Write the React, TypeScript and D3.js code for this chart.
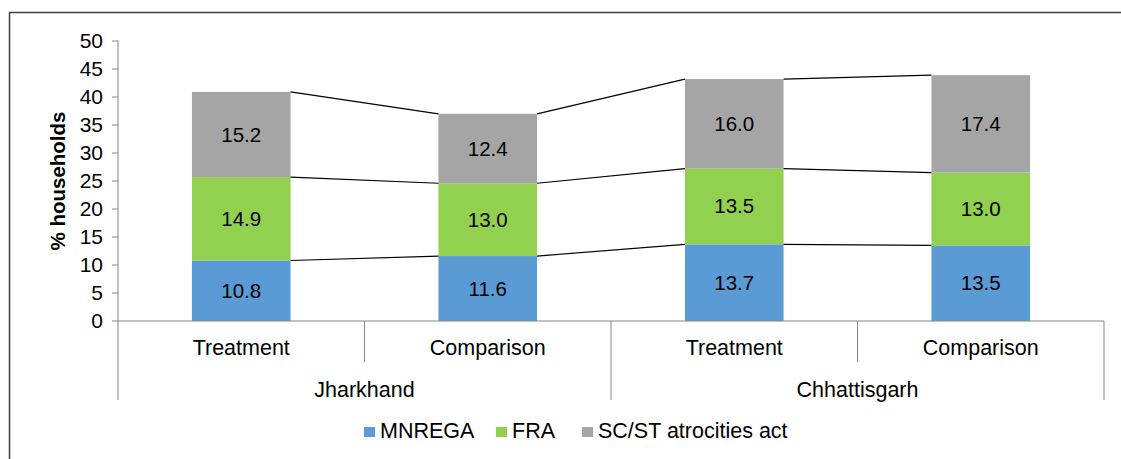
import React from 'react';
import * as d3 from 'd3';

// Share of households aware of each act, by state and sample
const states = ['Jharkhand', 'Chhattisgarh'];
const groups = ['Treatment', 'Comparison'];
const seriesNames = ['MNREGA', 'FRA', 'SC/ST atrocities act'];
const seriesColors = ['#5B9BD5', '#92D050', '#A5A5A5'];

const mnrega = [10.8, 11.6, 13.7, 13.5];
const fra = [14.9, 13.0, 13.5, 13.0];
const scst = [15.2, 12.4, 16.0, 17.4];

const yTicks = [0, 5, 10, 15, 20, 25, 30, 35, 40, 45, 50];

const W = 1121;
const H = 459;
const margin = { top: 41, left: 118, right: 17, bottom: 138 };
const FONT = "'Liberation Sans', Arial, sans-serif";

export default function App() {
  const width = W - margin.left - margin.right;
  const plotBottom = H - margin.bottom;

  const cats = states.flatMap(s => groups.map(g => `${s}|${g}`));
  const rows = cats.map((key, i) => ({ key, MNREGA: mnrega[i], FRA: fra[i], SCST: scst[i] }));
  const keys = ['MNREGA', 'FRA', 'SCST'];
  const stacked = d3.stack<any>().keys(keys)(rows);

  const x = d3.scaleBand()
    .domain(cats)
    .range([margin.left, margin.left + width])
    .paddingInner(0.6)
    .paddingOuter(0.3);

  const y = d3.scaleLinear()
    .domain([0, 50])
    .range([plotBottom, margin.top]);

  const step = x.step();
  const bw = x.bandwidth();
  const slotLeft = (i: number) => margin.left + i * step;

  return (
    <div style={{ position: 'absolute', left: 0, top: 0 }}>
      <svg width={W} height={H} style={{ display: 'block', fontFamily: FONT }}>
        <rect x={0} y={0} width={W} height={H} fill="#fff" />
        {/* outer frame */}
        <rect x={9.5} y={12.5} width={W + 20} height={H + 20} fill="none" stroke="#404040" strokeWidth={1.5} />

        {/* bars */}
        {stacked.map((layer, si) => (
          <g key={layer.key} fill={seriesColors[si]}>
            {layer.map((d, i) => (
              <rect
                key={i}
                x={x(cats[i])}
                y={y(d[1])}
                width={bw}
                height={y(d[0]) - y(d[1])}
              />
            ))}
          </g>
        ))}

        {/* series lines */}
        {stacked.map(layer => (
          <g key={'sl' + layer.key} stroke="#000" strokeWidth={1.2}>
            {layer.slice(0, -1).map((d, i) => (
              <line
                key={i}
                x1={(x(cats[i]) as number) + bw}
                y1={y(d[1])}
                x2={x(cats[i + 1])}
                y2={y(layer[i + 1][1])}
              />
            ))}
          </g>
        ))}

        {/* data labels */}
        {stacked.map(layer => (
          <g key={'lb' + layer.key} fontSize={20.5} fill="#000" textAnchor="middle">
            {layer.map((d, i) => (
              <text key={i} x={(x(cats[i]) as number) + bw / 2} y={(y(d[0]) + y(d[1])) / 2 + 7}>
                {(d[1] - d[0]).toFixed(1)}
              </text>
            ))}
          </g>
        ))}

        {/* y axis */}
        <line x1={margin.left} x2={margin.left} y1={margin.top - 0.5} y2={plotBottom} stroke="#868686" />
        {yTicks.map(t => (
          <g key={t}>
            <line x1={margin.left - 6} x2={margin.left} y1={y(t)} y2={y(t)} stroke="#868686" />
            <text x={margin.left - 15} y={y(t) + 7} textAnchor="end" fontSize={21} fill="#000">{t}</text>
          </g>
        ))}
        <text
          transform={`translate(65,${(margin.top + plotBottom) / 2}) rotate(-90)`}
          textAnchor="middle"
          fontSize={20.5}
          fontWeight="bold"
          fill="#000"
        >% households</text>

        {/* x axis */}
        <line x1={margin.left} x2={margin.left + width} y1={plotBottom} y2={plotBottom} stroke="#868686" />
        {d3.range(cats.length + 1).map(i => (
          <line
            key={i}
            x1={slotLeft(i)}
            x2={slotLeft(i)}
            y1={plotBottom}
            y2={i % groups.length === 0 ? plotBottom + 79 : plotBottom + 41}
            stroke="#868686"
          />
        ))}
        {cats.map((c, i) => (
          <text key={c} x={slotLeft(i) + step / 2} y={plotBottom + 34} textAnchor="middle" fontSize={21.5} fill="#000">
            {c.split('|')[1]}
          </text>
        ))}
        {states.map((s, i) => (
          <text
            key={s}
            x={slotLeft(i * groups.length) + (step * groups.length) / 2}
            y={plotBottom + 76}
            textAnchor="middle"
            fontSize={21.5}
            fill="#000"
          >{s}</text>
        ))}

        {/* legend */}
        {seriesNames.map((n, i) => {
          const lx = [364, 496, 582][i];
          return (
            <g key={n}>
              <rect x={lx} y={427} width={11} height={10} fill={seriesColors[i]} />
              <text x={lx + 16} y={438} fontSize={21.5} fill="#000">{n}</text>
            </g>
          );
        })}
      </svg>
    </div>
  );
}
